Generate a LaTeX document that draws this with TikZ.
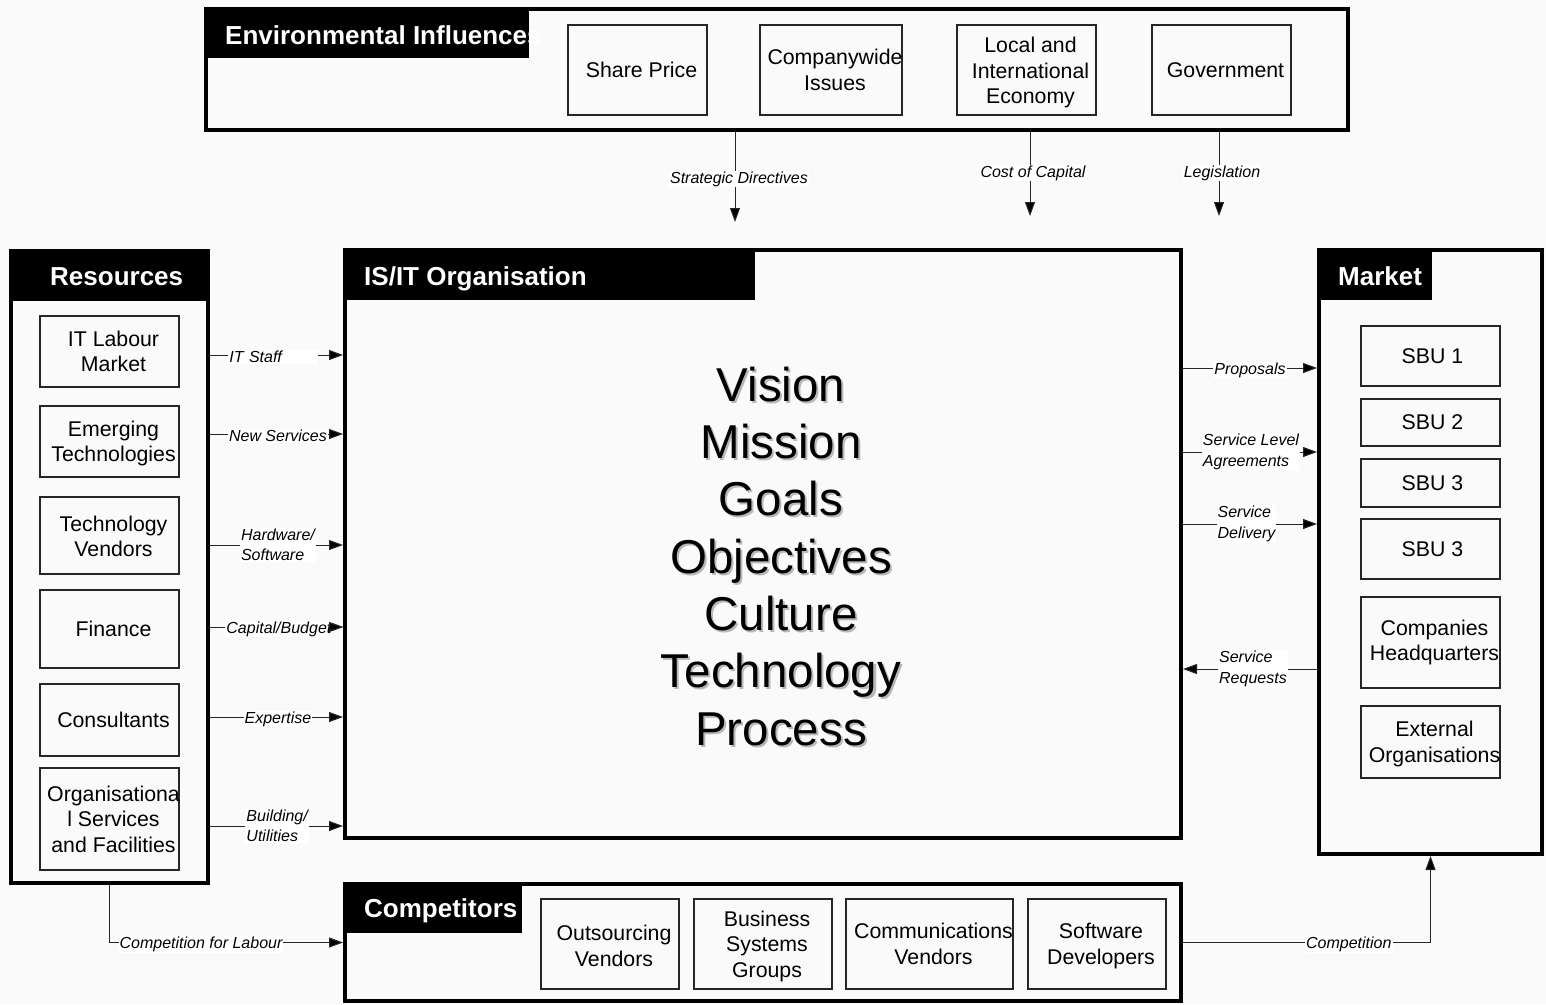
\documentclass[tikz,border=0pt]{standalone}
\usepackage{fontspec}
\setmainfont{Liberation Sans}
\usetikzlibrary{arrows.meta,calc}
\definecolor{bgc}{RGB}{250,250,250}
\begin{document}
\begin{tikzpicture}[x=1pt,y=-1pt,
 cont/.style={draw=black,line width=4pt,fill=bgc,inner sep=0pt},
 hdr/.style={fill=black,inner sep=0pt,anchor=north west},
 hdt/.style={text=white,font=\fontsize{26pt}{30pt}\selectfont\bfseries,inner sep=0pt,anchor=base west},
 ibox/.style={draw=black!85,line width=1.3pt,fill=bgc,inner sep=0pt},
 itx/.style={font=\fontsize{21.3pt}{25.5pt}\selectfont,align=center,inner sep=0pt,xshift=4pt},
 conn/.style={draw=black!85,line width=1pt,-{Triangle[length=14pt,width=10pt,fill=black]}},
 lbl/.style={font=\fontsize{16pt}{20.5pt}\selectfont\itshape,fill=white,inner sep=1pt,align=left},
 one/.style={yshift=-2pt},
 big/.style={font=\fontsize{47.5pt}{57.3pt}\selectfont,align=center,inner sep=0pt,anchor=base}]

\fill[bgc] (0,0) rectangle (1546,1004);
\useasboundingbox (0,0) rectangle (1546,1004);

% containers
\node[cont,minimum width=1142pt,minimum height=121pt] (env) at (777,69.5) {};
\node[cont,minimum width=197pt,minimum height=632pt] (res) at (109.5,567) {};
\node[cont,minimum width=836pt,minimum height=588pt] (is) at (763,544) {};
\node[cont,minimum width=223pt,minimum height=604pt] (mkt) at (1430.5,552) {};
\node[cont,minimum width=836pt,minimum height=117pt] (comp) at (763,942.5) {};

% headers
\node[hdr,minimum width=325pt,minimum height=51pt] (envh) at (env.north west) {};
\node[hdr,minimum width=201pt,minimum height=52pt] (resh) at (res.north west) {};
\node[hdr,minimum width=412pt,minimum height=52pt] (ish) at (is.north west) {};
\node[hdr,minimum width=115pt,minimum height=52pt] (mkth) at (mkt.north west) {};
\node[hdr,minimum width=179pt,minimum height=51pt] (comph) at (comp.north west) {};

\node[hdt] (envt) at (225,44) {Environmental Influences};
\node[hdt] (rest) at (50,285) {Resources};
\node[hdt] (ist) at (364,285) {IS/IT Organisation};
\node[hdt] (mktt) at (1338,285) {Market};
\node[hdt] (compt) at (364,917) {Competitors};

% environmental boxes
\node[ibox,minimum width=139pt,minimum height=90pt,label={[itx]center:Share Price}] (sp) at (637.5,70) {};
\node[ibox,minimum width=142pt,minimum height=90pt,label={[itx]center:{Companywide\\Issues}}] (cw) at (831,70) {};
\node[ibox,minimum width=139pt,minimum height=90pt,label={[itx,yshift=-2.5pt]center:{Local and\\International\\Economy}}] (lie) at (1026.5,70) {};
\node[ibox,minimum width=139pt,minimum height=90pt,label={[itx]center:Government}] (gov) at (1221.5,70) {};

% resources boxes
\node[ibox,minimum width=139pt,minimum height=71pt,label={[itx]center:{IT Labour\\Market}}] (itl) at (109.5,351.5) {};
\node[ibox,minimum width=139pt,minimum height=71pt,label={[itx,yshift=-2pt]center:{Emerging\\Technologies}}] (emt) at (109.5,441.5) {};
\node[ibox,minimum width=139pt,minimum height=77pt,label={[itx,yshift=-1pt]center:{Technology\\Vendors}}] (tv) at (109.5,535.5) {};
\node[ibox,minimum width=139pt,minimum height=78pt,label={[itx]center:Finance}] (fin) at (109.5,629) {};
\node[ibox,minimum width=139pt,minimum height=72pt,label={[itx]center:Consultants}] (con) at (109.5,720) {};
\node[ibox,minimum width=139pt,minimum height=102pt,label={[itx]center:{Organisationa\\l Services\\and Facilities}}] (org) at (109.5,819) {};

% market boxes
\node[ibox,minimum width=139pt,minimum height=60pt,label={[itx,xshift=-2pt]center:SBU 1}] (sbua) at (1430.5,356) {};
\node[ibox,minimum width=139pt,minimum height=47pt,label={[itx,xshift=-2pt]center:SBU 2}] (sbub) at (1430.5,422.5) {};
\node[ibox,minimum width=139pt,minimum height=48pt,label={[itx,xshift=-2pt]center:SBU 3}] (sbuc) at (1430.5,483) {};
\node[ibox,minimum width=139pt,minimum height=60pt,label={[itx,xshift=-2pt]center:SBU 3}] (sbud) at (1430.5,549) {};
\node[ibox,minimum width=139pt,minimum height=91pt,label={[itx]center:{Companies\\Headquarters}}] (chq) at (1430.5,642.5) {};
\node[ibox,minimum width=139pt,minimum height=72pt,label={[itx,yshift=-2pt]center:{External\\Organisations}}] (ext) at (1430.5,742) {};

% competitor boxes
\node[ibox,minimum width=138pt,minimum height=90pt,label={[itx,yshift=-2pt]center:{Outsourcing\\Vendors}}] (out) at (610,944) {};
\node[ibox,minimum width=138pt,minimum height=90pt,label={[itx,yshift=-2pt]center:{Business\\Systems\\Groups}}] (bsg) at (763,944) {};
\node[ibox,minimum width=167pt,minimum height=90pt,label={[itx]center:{Communications\\Vendors}}] (comm) at (929.5,944) {};
\node[ibox,minimum width=138pt,minimum height=90pt,label={[itx,yshift=-2pt]center:{Software\\Developers}}] (swd) at (1097,944) {};

% central text with shadow
\node[big,text=black!28] (vmshadow) at (783,747) {Vision\\Mission\\Goals\\Objectives\\Culture\\Technology\\Process};
\node[big] (vm) at (781,745) {Vision\\Mission\\Goals\\Objectives\\Culture\\Technology\\Process};

% top connectors
\coordinate (sdE) at (735,222);
\coordinate (ccE) at (1030,216);
\coordinate (lgE) at (1219,216);
\draw[conn] (env.south -| sdE) -- node[lbl,one,pos=0.5,xshift=4pt] (sdl) {Strategic Directives} (sdE);
\draw[conn] (env.south -| ccE) -- node[lbl,one,pos=0.464,xshift=3pt] (ccl) {Cost of Capital} (ccE);
\draw[conn] (env.south -| lgE) -- node[lbl,one,pos=0.464,xshift=3pt] (lgl) {Legislation} (lgE);

% left connectors
\draw[conn] (res.east |- 0,355) -- node[lbl,one,pos=0.135,anchor=west,text width=88pt] (l1) {IT Staff} (is.west |- 0,355);
\draw[conn] (res.east |- 0,434) -- node[lbl,one,pos=0.511] (l2) {New Services} (is.west |- 0,434);
\draw[conn] (res.east |- 0,545) -- node[lbl,pos=0.511] (l3) {Hardware/\\Software} (is.west |- 0,545);
\draw[conn] (res.east |- 0,627) -- node[lbl,one,pos=0.518] (l4) {Capital/Budget} (is.west |- 0,627);
\draw[conn] ($(is.west |- 0,627)+(-1,0)$) -- (is.west |- 0,627);
\draw[conn] (res.east |- 0,717) -- node[lbl,one,pos=0.511] (l5) {Expertise} (is.west |- 0,717);
\draw[conn] (res.east |- 0,826) -- node[lbl,pos=0.505] (l6) {Building/\\Utilities} (is.west |- 0,826);

% right connectors
\draw[conn] (is.east |- 0,368) -- node[lbl,one,pos=0.5] (r1) {Proposals} (mkt.west |- 0,368);
\draw[conn] (is.east |- 0,452) -- node[lbl,pos=0.507] (r2) {Service Level\\Agreements} (mkt.west |- 0,452);
\draw[conn] (is.east |- 0,524) -- node[lbl,pos=0.474] (r3) {Service\\Delivery} (mkt.west |- 0,524);
\draw[conn] (mkt.west |- 0,669) -- node[lbl,pos=0.478] (r4) {Service\\Requests} (is.east |- 0,669);

% bottom connectors
\draw[conn] (res.south) |- node[lbl,one,pos=0.696] (b1) {Competition for Labour} (comp.west);
\draw[conn] (comp.east) -| node[lbl,one,pos=0.335] (b2) {Competition} (mkt.south);
\end{tikzpicture}
\end{document}
